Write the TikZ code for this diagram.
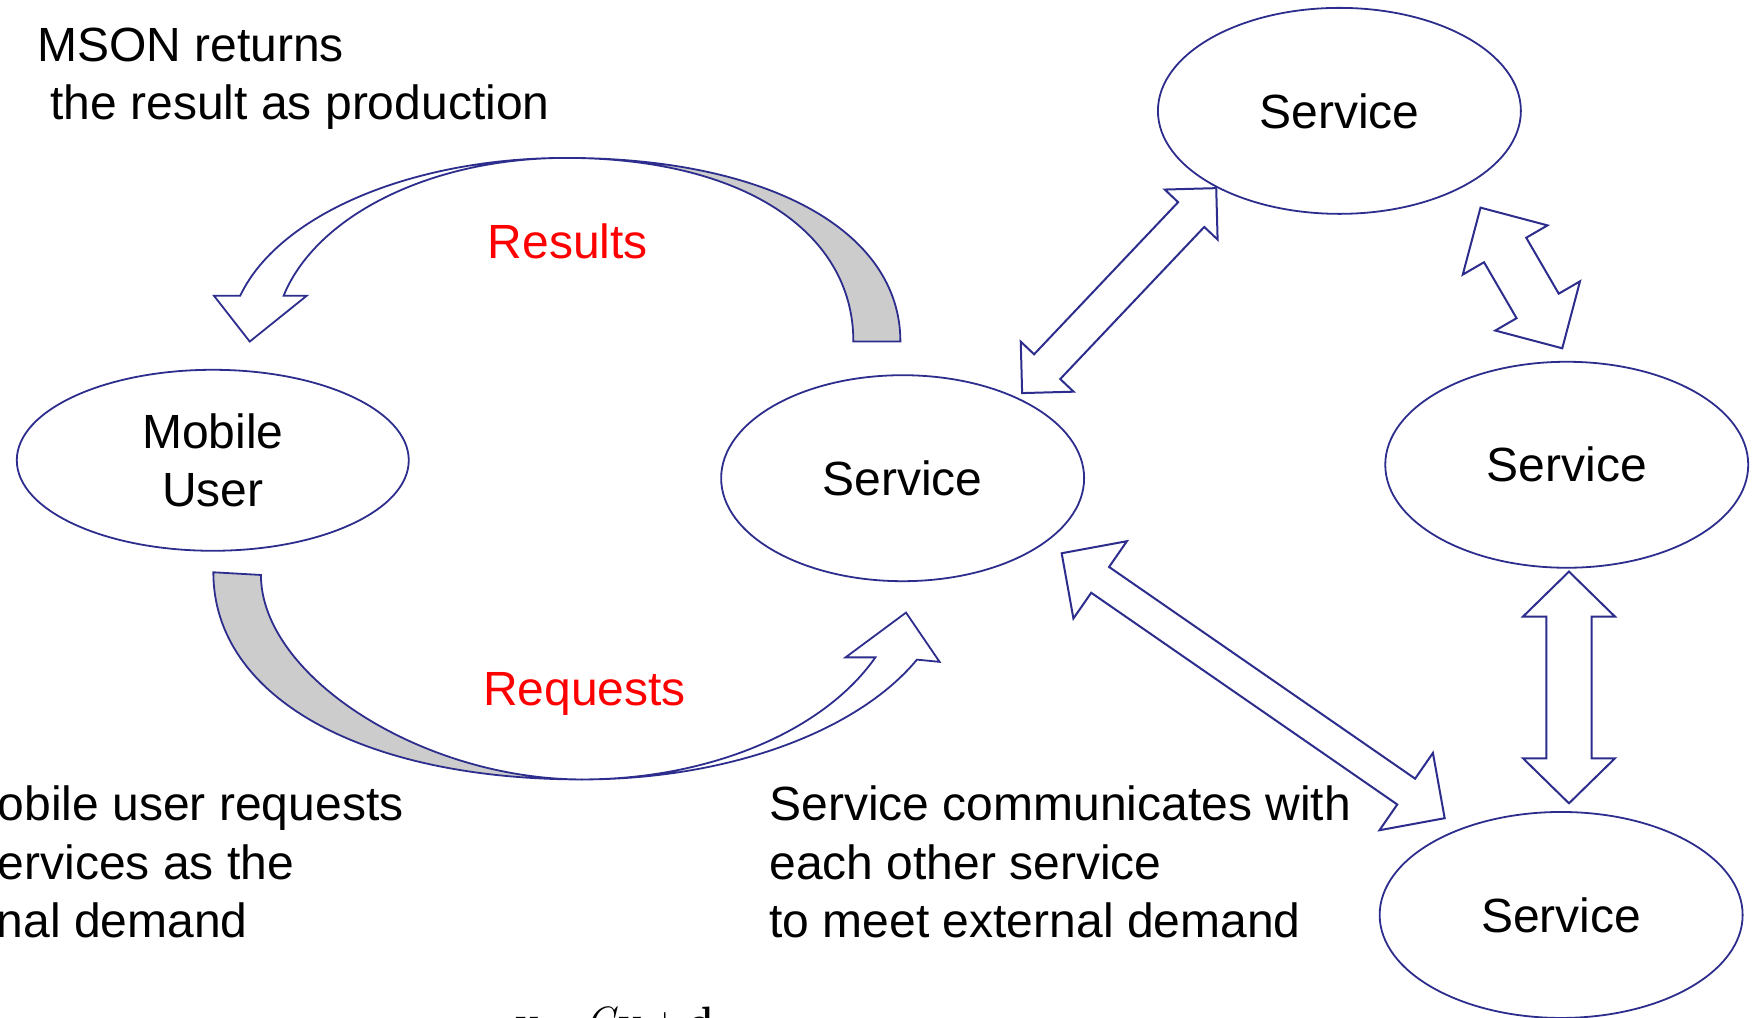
\documentclass[tikz,border=0pt]{standalone}
\usepackage{fontspec}
\setmainfont{Liberation Sans}
\newfontfamily\eqfont{Latin Modern Roman}
\usetikzlibrary{calc,shapes.geometric}

\definecolor{navy}{RGB}{44,45,140}
\definecolor{bandgray}{RGB}{204,204,204}
\definecolor{labelred}{RGB}{255,0,0}

% Straight two-headed block arrow between tips #1 and #2
% #3 head length, #4 half head width, #5 half shaft width
\newcommand{\twowayarrow}[5]{%
  \coordinate (hA) at ($(#1)!#3!(#2)$);
  \coordinate (hB) at ($(#2)!#3!(#1)$);
  \draw[blockarrow] (#1)
    -- ($(hA)!#4!90:(#2)$) -- ($(hA)!#5!90:(#2)$)
    -- ($(hB)!#5!-90:(#1)$) -- ($(hB)!#4!-90:(#1)$)
    -- (#2)
    -- ($(hB)!#4!90:(#1)$) -- ($(hB)!#5!90:(#1)$)
    -- ($(hA)!#5!-90:(#2)$) -- ($(hA)!#4!-90:(#2)$)
    -- cycle;
}

\begin{document}
\begin{tikzpicture}[x=1.12pt, y=-1.12pt,
  txt/.style={font=\fontsize{48}{58}\selectfont, inner sep=0pt},
  lbl/.style={txt, text=labelred},
  ell/.style={ellipse, draw=navy, line width=1.8pt, inner sep=0pt,
              font=\fontsize{48}{58}\selectfont},
  svc/.style={ell, minimum width=363pt, minimum height=206pt},
  band/.style={draw=navy, line width=1.8pt, line join=miter},
  blockarrow/.style={draw=navy, line width=2pt, fill=white, line join=miter}]

\useasboundingbox (0,0) rectangle (1568,909);
\clip (0,0) rectangle (1568,909);

% ---- nodes ----
\node[ell, minimum width=392pt, minimum height=181pt, align=center] (mu) at (190,411) {Mobile\\User};
\node[svc] (s0) at (806,427) {Service};
\node[svc] (s1) at (1196,99) {Service};
\node[svc] (s2) at (1399,415) {Service};
\node[svc] (s3) at (1394,817) {Service};

% ---- "Results" curved arrow (service back to mobile user) ----
\draw[band, fill=bandgray] (762,305) -- (804,305)
  .. controls (804,206) and (686,141) .. (505,141)
  .. controls (662,141) and (762,206) .. (762,305) -- cycle;
\draw[band, fill=white]
  plot[domain=90:165.52, samples=60] ({505+300*cos(\x)},{305-164*sin(\x)})
  -- (191,264) -- (223,305) -- (274,264)
  -- plot[domain=90:165.52, samples=60] ({505+260*cos(255.52-\x)},{305-164*sin(255.52-\x)})
  -- cycle;

% ---- "Requests" curved arrow (mobile user to service) ----
\draw[band, fill=bandgray] (190.5,511)
  .. controls (190.5,622) and (322,696) .. (520,696)
  .. controls (376.5,696) and (233,603.5) .. (233,513.4) -- cycle;
\draw[band, fill=white]
  plot[domain=24.94:90, samples=60] ({520+329.5*cos(114.94-\x)},{511+185*sin(114.94-\x)})
  -- (839,591) -- (809,547) -- (755,587)
  -- plot[domain=24.26:90, samples=60] ({520+287*cos(\x)},{511+185*sin(\x)})
  -- cycle;

% ---- service-to-service block arrows ----
\coordinate (s0s1a) at (912.7,351);
\coordinate (s0s1b) at (1086,168);
\twowayarrow{s0s1a}{s0s1b}{36.4pt}{36.4pt}{18pt}

\coordinate (s1s2a) at (1322,185.4);
\coordinate (s1s2b) at (1395,311);
\twowayarrow{s1s2a}{s1s2b}{49pt}{49pt}{24.4pt}

\coordinate (s2s3a) at (1401,510.4);
\coordinate (s2s3b) at (1401,717.3);
\twowayarrow{s2s3a}{s2s3b}{45pt}{46pt}{22.7pt}

\coordinate (s0s3a) at (948,494);
\coordinate (s0s3b) at (1290,730.6);
\twowayarrow{s0s3a}{s0s3b}{46.8pt}{47pt}{15.7pt}

% ---- labels ----
\node[lbl, anchor=base] (res) at (507,231) {Results};
\node[lbl, anchor=base] (req) at (522,630) {Requests};

\node[txt, anchor=base west] (msonA) at (33,55) {MSON returns};
\node[txt, anchor=base west] (msonB) at (45,107) {the result as production};

\node[txt, anchor=base west] (userA) at (-2,733) {obile user requests};
\node[txt, anchor=base west] (userB) at (-2,785) {ervices as the};
\node[txt, anchor=base west] (userC) at (-3,837) {nal demand};

\node[txt, anchor=base west] (commA) at (687,733) {Service communicates with};
\node[txt, anchor=base west] (commB) at (687,785) {each other service};
\node[txt, anchor=base west] (commC) at (687,837) {to meet external demand};

% formula below the figure, mostly cut off by the frame
\node[anchor=base west, inner sep=0pt, font=\eqfont\fontsize{41}{48}\selectfont] (eq)
  at (460,925) {\textbf{x}\hspace{0.2em}=\hspace{0.2em}\textit{C}\textbf{x}\hspace{0.2em}+\hspace{0.2em}\textbf{d}};
\end{tikzpicture}
\end{document}
